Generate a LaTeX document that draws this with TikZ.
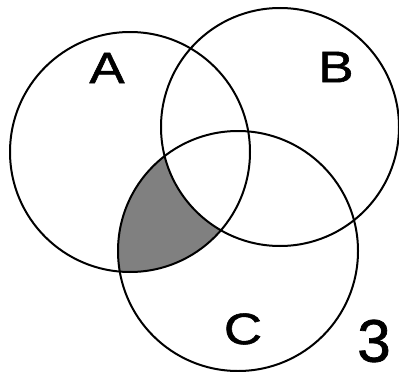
\documentclass[tikz,border=0pt]{standalone}
\usepackage{fontspec}
\setmainfont{Liberation Sans}
\newfontfamily\labfont[FakeBold=1.2]{Liberation Sans}
\begin{document}
\begin{tikzpicture}[x=1pt,y=-1pt,
  ring/.style={draw=black,line width=2pt},
  lab/.style={font=\labfont\fontsize{44}{44}\selectfont,xscale=1.2,inner sep=0pt},
  num/.style={font=\labfont\fontsize{60}{60}\selectfont,inner sep=0pt}]
\useasboundingbox[fill=white] (0,0) rectangle (399,372);
\def\ca{(130,152) circle (120)}
\def\cb{(280,127) circle (119)}
\def\cc{(238,251) circle (120)}
\begin{scope}
  \clip \ca;
  \clip \cc;
  \fill[fill=gray, even odd rule] (0,0) rectangle (399,372) \cb;
\end{scope}
\draw[ring] \ca;
\draw[ring] \cb;
\draw[ring] \cc;
\node[lab] (A) at (107,68) {A};
\node[lab] (B) at (336,67) {B};
\node[lab] (C) at (243,329) {C};
\node[num] (n3) at (374,341) {3};
\end{tikzpicture}
\end{document}
